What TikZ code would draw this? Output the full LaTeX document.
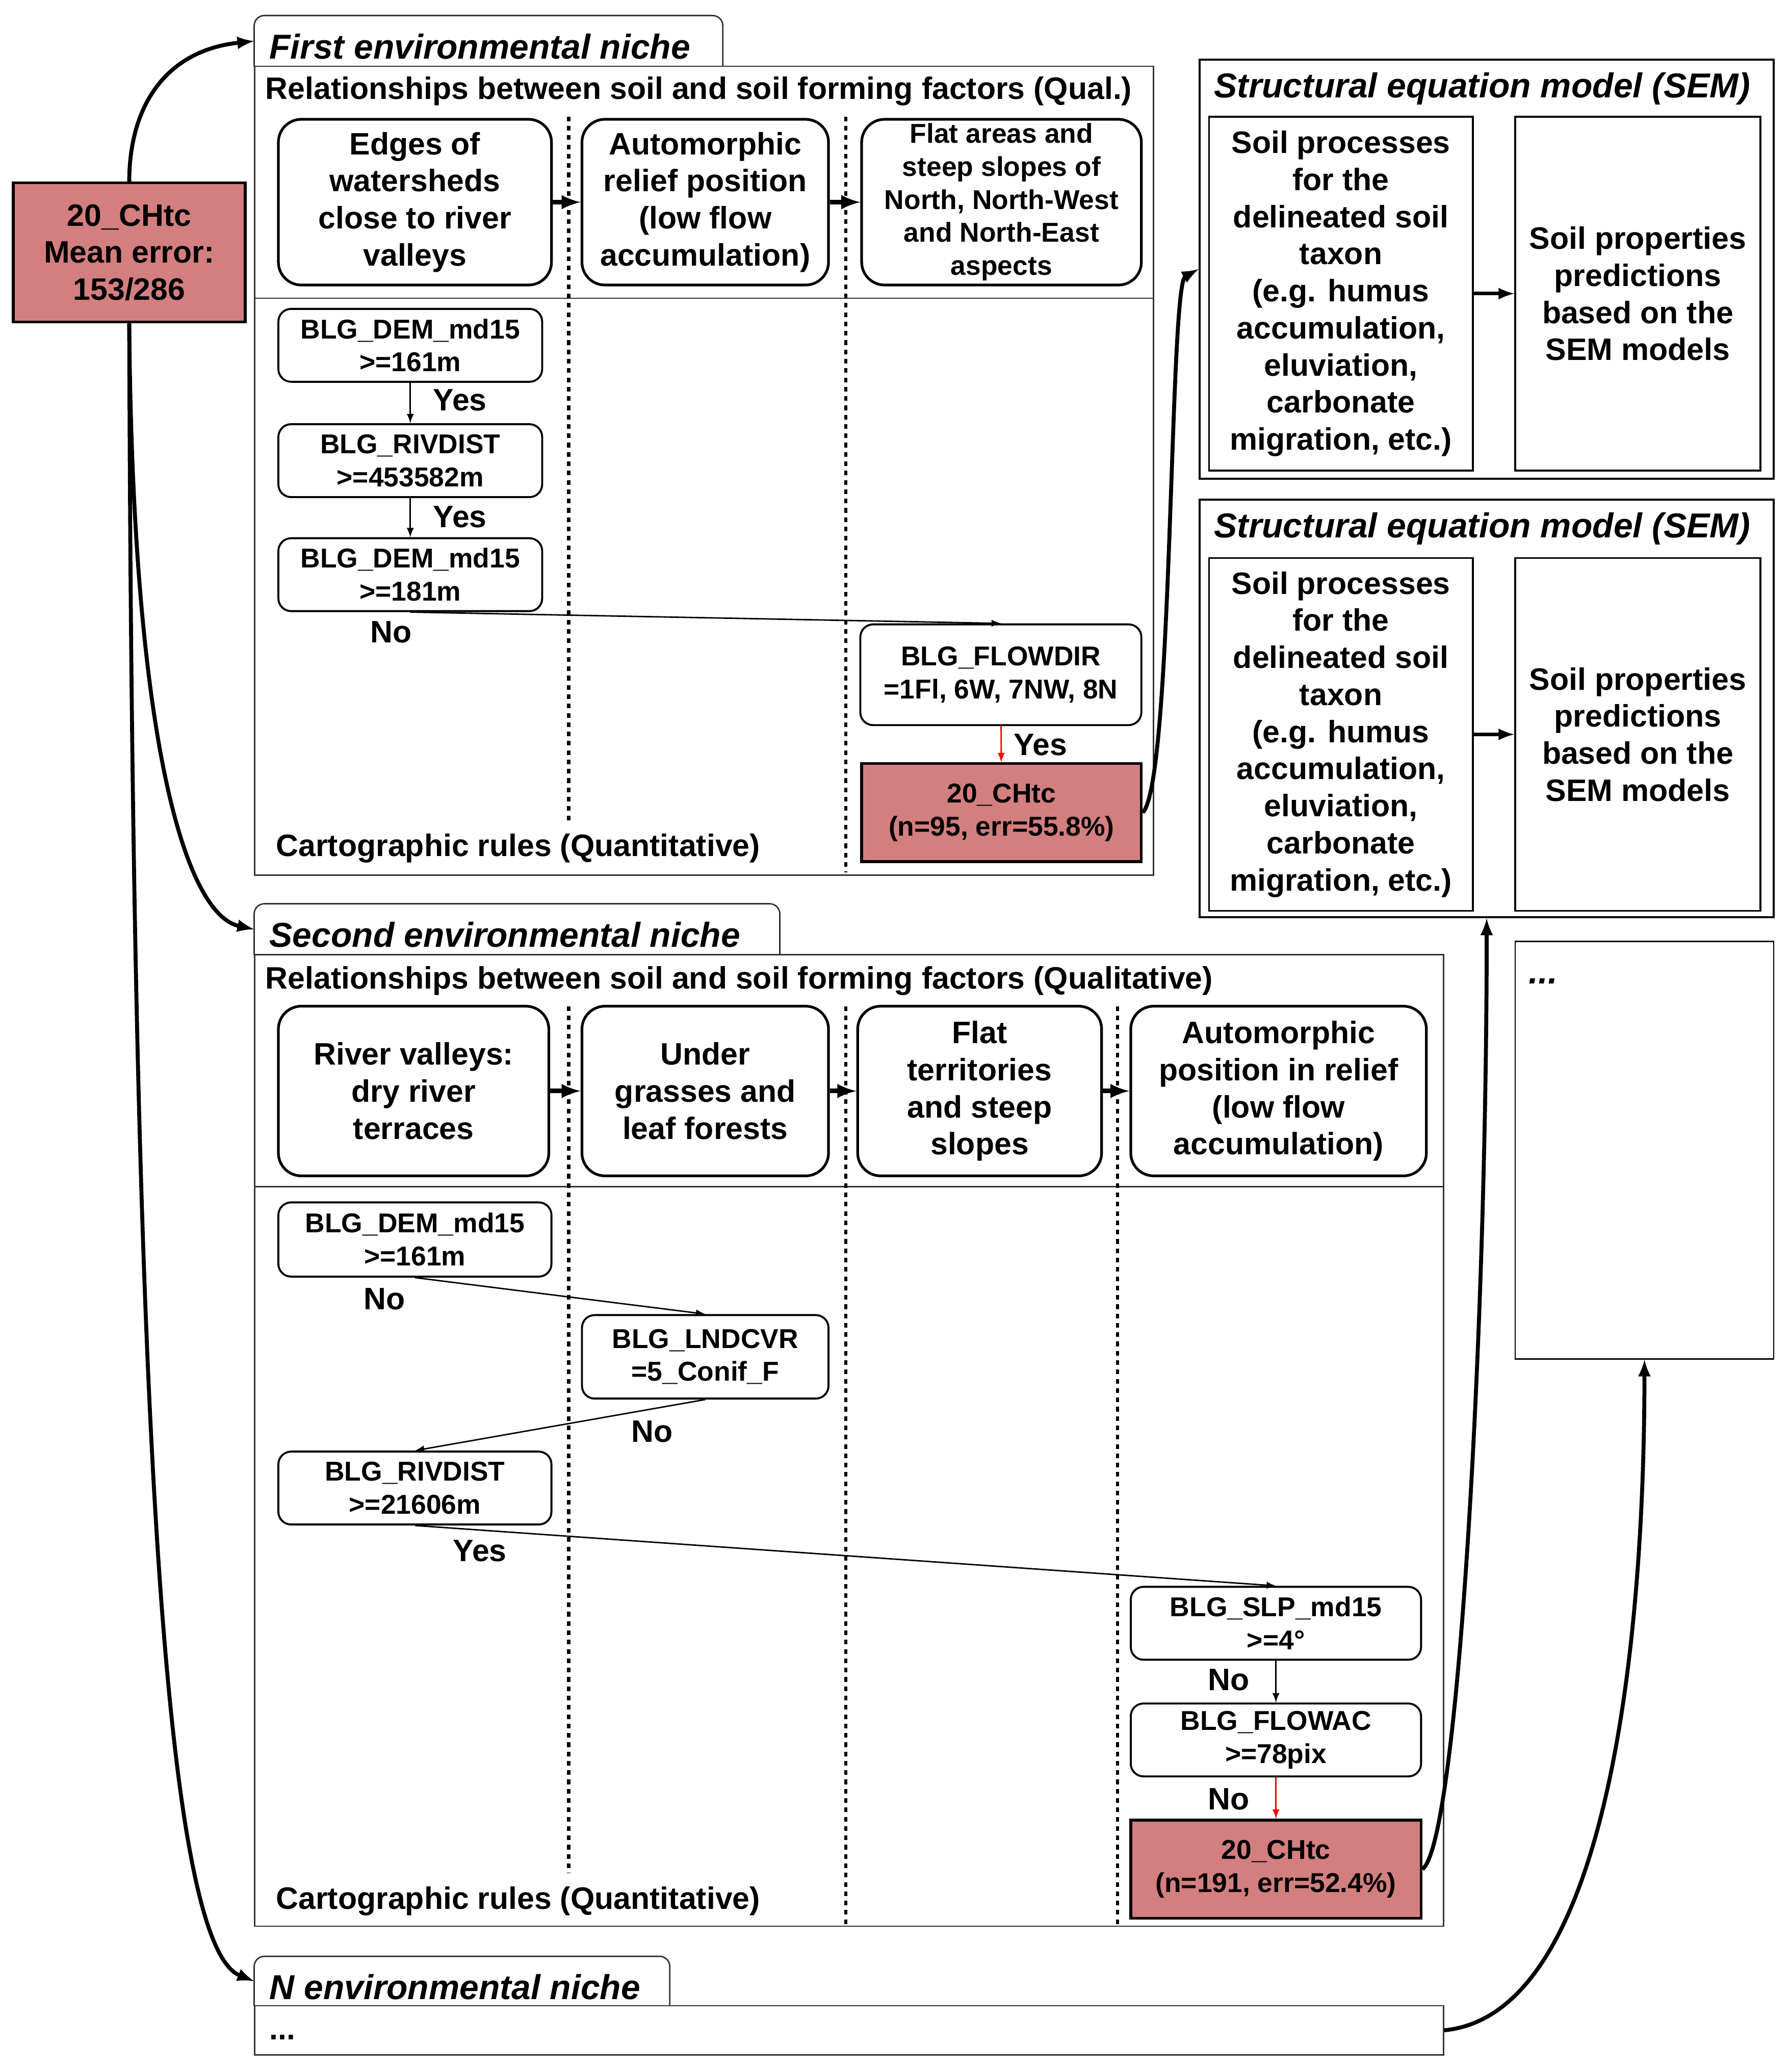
\documentclass[tikz,border=0pt]{standalone}
\usepackage{fontspec}
\setmainfont{Liberation Sans}
\usepackage{tikz}
\definecolor{leafred}{RGB}{211,127,127}
\def\pu{0.026cm}
\newcommand{\fbig}{\fontsize{17.3}{20.7}\selectfont\bfseries}
\newcommand{\fsmall}{\fontsize{15.2}{18.4}\selectfont\bfseries}
\newcommand{\ftitle}{\fontsize{19.3}{23}\selectfont\bfseries\itshape}

\begin{document}
\begin{tikzpicture}[x=0.026cm,y=-0.026cm,
  sz/.style 2 args={minimum width=#1*\pu,minimum height=#2*\pu},
  qual/.style={draw,line width=1.5pt,rounded corners=0.45cm,align=center,inner sep=0pt,font=\fbig},
  rule/.style={draw,line width=1.1pt,rounded corners=0.25cm,align=center,inner sep=0pt,font=\fsmall},
  leaf/.style={draw,line width=1.5pt,fill=leafred,align=center,inner sep=0pt,font=\fsmall},
  frame/.style={draw=black!80,line width=0.8pt,inner sep=0pt},
  sembox/.style={draw,line width=1pt,align=center,inner sep=0pt,font=\fbig},
  tabshape/.style={inner sep=0pt},
  ttl/.style={inner sep=0pt,font=\ftitle,anchor=west},
  lbl/.style={inner sep=0pt,font=\fbig},
  sep/.style={line width=1.8pt,dash pattern=on 2.6pt off 2.6pt},
  flow/.style={line width=2.6pt,-latex},
  yesno/.style={line width=0.8pt,-latex},
  hit/.style={yesno,red},
  curvearrow/.style={line width=2.2pt,-latex}]
\useasboundingbox (0,0) rectangle (1350,1563);

% first niche
\node[tabshape,sz={353}{38}] (tab1) at (368.5,31) {};
\draw[frame,rounded corners=0.2cm] (tab1.south west) -- (tab1.north west) -- (tab1.north east) -- (tab1.south east);
\node[ttl] at (203,35) {First environmental niche};
\node[frame,sz={678}{610}] (niche1) at (531,355) {};
\draw[frame] (192,225) -- (870,225);
\node[lbl,anchor=west] at (200,69) {Relationships between soil and soil forming factors (Qual.)};
\node[lbl,anchor=west] at (208,640) {Cartographic rules (Quantitative)};
\draw[sep] (429,88) -- (429,620);
\draw[sep] (638,88) -- (638,658);

\node[qual,sz={206}{125}] (a1) at (313,152.5) {Edges of\\watersheds\\close to river\\valleys};
\node[qual,sz={186}{125}] (a2) at (532,152.5) {Automorphic\\relief position\\(low flow\\accumulation)};
\node[qual,sz={211}{125},font=\fsmall] (a3) at (755.5,152.5) {Flat areas and\\steep slopes of\\North, North-West\\and North-East\\aspects};
\draw[flow] (a1) -- (a2);
\draw[flow] (a2) -- (a3);

\node[rule,sz={199}{55}] (b1) at (309.5,260.5) {BLG\_DEM\_md15\\>=161m};
\node[rule,sz={199}{55}] (b2) at (309.5,347.5) {BLG\_RIVDIST\\>=453582m};
\node[rule,sz={199}{55}] (b3) at (309.5,433.5) {BLG\_DEM\_md15\\>=181m};
\node[rule,sz={212}{76}] (b4) at (755,509) {BLG\_FLOWDIR\\=1Fl, 6W, 7NW, 8N};
\node[leaf,sz={211}{74}] (leaf1) at (755.5,613) {20\_CHtc\\(n=95, err=55.8\%)};
\draw[yesno] (b1) -- (b2);
\draw[yesno] (b2) -- (b3);
\draw[yesno] (b3.south) -- (b4.north);
\draw[hit] (b4) -- (leaf1);
\node[lbl] at (347,302) {Yes};
\node[lbl] at (347,390) {Yes};
\node[lbl] at (295,477) {No};
\node[lbl] at (785,562) {Yes};

% SEM boxes
\node[frame,draw=black,line width=1.1pt,sz={433}{316}] (sem1) at (1121.5,203) {};
\node[ttl,anchor=center] at (1118,67) {Structural equation model (SEM)};
\node[sembox,sz={199}{267}] (proc1) at (1011.5,221.5) {Soil processes\\for the\\delineated soil\\taxon\\(e.g. humus\\accumulation,\\eluviation,\\carbonate\\migration, etc.)};
\node[sembox,sz={185}{267}] (pred1) at (1235.5,221.5) {Soil properties\\predictions\\based on the\\SEM models};
\draw[flow,line width=2pt] (proc1) -- (pred1);

\node[frame,draw=black,line width=1.1pt,sz={433}{315}] (sem2) at (1121.5,534.5) {};
\node[ttl,anchor=center] at (1118,399) {Structural equation model (SEM)};
\node[sembox,sz={199}{266}] (proc2) at (1011.5,554) {Soil processes\\for the\\delineated soil\\taxon\\(e.g. humus\\accumulation,\\eluviation,\\carbonate\\migration, etc.)};
\node[sembox,sz={185}{266}] (pred2) at (1235.5,554) {Soil properties\\predictions\\based on the\\SEM models};
\draw[flow,line width=2pt] (proc2) -- (pred2);

\node[frame,draw=black,sz={195}{315}] (more) at (1240.5,867.5) {};
\node[ttl] at (1153,740) {...};

% second niche
\node[tabshape,sz={396}{38}] (tab2) at (390,701) {};
\draw[frame,rounded corners=0.2cm] (tab2.south west) -- (tab2.north west) -- (tab2.north east) -- (tab2.south east);
\node[ttl] at (203,705) {Second environmental niche};
\node[frame,sz={897}{733}] (niche2) at (640.5,1086.5) {};
\draw[frame] (192,895) -- (1089,895);
\node[lbl,anchor=west] at (200,740) {Relationships between soil and soil forming factors (Qualitative)};
\node[lbl,anchor=west] at (208,1434) {Cartographic rules (Quantitative)};
\draw[sep] (429,759) -- (429,1413);
\draw[sep] (638,759) -- (638,1453);
\draw[sep] (843,759) -- (843,1453);

\node[qual,sz={204}{128}] (c1) at (312,823) {River valleys:\\dry river\\terraces};
\node[qual,sz={186}{128}] (c2) at (532,823) {Under\\grasses and\\leaf forests};
\node[qual,sz={184}{128}] (c3) at (739,823) {Flat\\territories\\and steep\\slopes};
\node[qual,sz={223}{128}] (c4) at (964.5,823) {Automorphic\\position in relief\\(low flow\\accumulation)};
\draw[flow] (c1) -- (c2);
\draw[flow] (c2) -- (c3);
\draw[flow] (c3) -- (c4);

\node[rule,sz={206}{56}] (d1) at (313,935) {BLG\_DEM\_md15\\>=161m};
\node[rule,sz={186}{63}] (d2) at (532,1023.5) {BLG\_LNDCVR\\=5\_Conif\_F};
\node[rule,sz={206}{55}] (d3) at (313,1122.5) {BLG\_RIVDIST\\>=21606m};
\node[rule,sz={219}{55}] (d4) at (962.5,1224.5) {BLG\_SLP\_md15\\>=4°};
\node[rule,sz={219}{55}] (d5) at (962.5,1312.5) {BLG\_FLOWAC\\>=78pix};
\node[leaf,sz={219}{74}] (leaf2) at (962.5,1410) {20\_CHtc\\(n=191, err=52.4\%)};
\draw[yesno] (d1.south) -- (d2.north);
\draw[yesno] (d2.south) -- (d3.north);
\draw[yesno] (d3.south) -- (d4.north);
\draw[yesno] (d4) -- (d5);
\draw[hit] (d5) -- (leaf2);
\node[lbl] at (290,980) {No};
\node[lbl] at (492,1080) {No};
\node[lbl] at (362,1170) {Yes};
\node[lbl] at (927,1267) {No};
\node[lbl] at (927,1357) {No};

% N niche
\node[tabshape,sz={313}{37}] (tab3) at (348.5,1494.5) {};
\draw[frame,rounded corners=0.2cm] (tab3.south west) -- (tab3.north west) -- (tab3.north east) -- (tab3.south east);
\node[ttl] at (203,1499) {N environmental niche};
\node[frame,sz={897}{37}] (nbox) at (640.5,1531.5) {};
\node[lbl,anchor=west] at (203,1537) {...};

% overall model
\node[leaf,sz={175}{105},font=\fbig] (src) at (97.5,190.5) {20\_CHtc\\Mean error:\\153/286};
\draw[curvearrow] (src.north) .. controls (97.5,80) and (125,38) .. (tab1.west);
\draw[curvearrow] (src.south) .. controls (100,560) and (140,690) .. (tab2.west);
\draw[curvearrow] (src.south) .. controls (100,1150) and (130,1470) .. (tab3.west);
\draw[curvearrow] (leaf1.east) .. controls (885,590) and (882,215) .. (sem1.west);
\draw[curvearrow] (leaf2.east) .. controls (1100,1390) and (1121.5,1000) .. (sem2.south);
\draw[curvearrow] (nbox.east) .. controls (1210,1520) and (1240.5,1250) .. (more.south);
\end{tikzpicture}
\end{document}
